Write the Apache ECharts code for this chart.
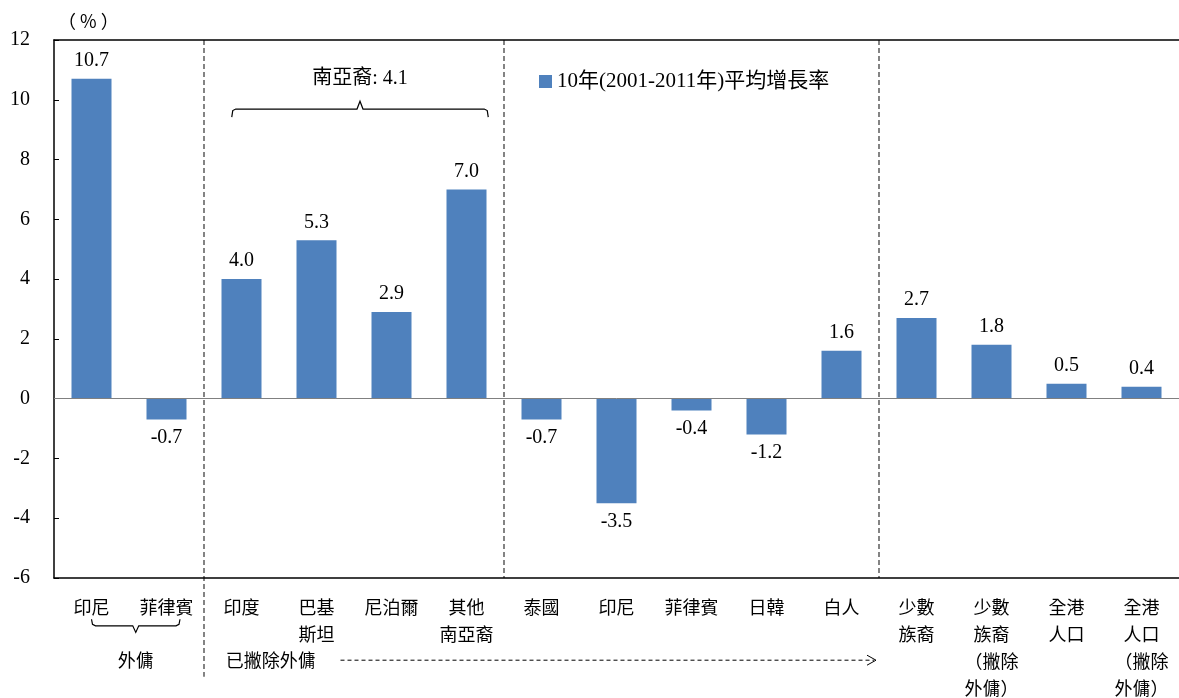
<!DOCTYPE html>
<html>
<head>
<meta charset="utf-8">
<script src="https://cdn.jsdelivr.net/npm/echarts@6/dist/echarts.min.js"></script>
<style>html,body{margin:0;padding:0;background:#fff}#c{width:1179px;height:698px}</style>
</head>
<body>
<div id="c"></div>
<script>
var categories = ['印尼', '菲律賓', '印度', '巴基\n斯坦', '尼泊爾', '其他\n南亞裔', '泰國', '印尼', '菲律賓', '日韓', '白人', '少數\n族裔', '少數\n族裔\n（撇除\n外傭）', '全港\n人口', '全港\n人口\n（撇除\n外傭）'];
var growth = [10.7, -0.7, 4.0, 5.3, 2.9, 7.0, -0.7, -3.5, -0.4, -1.2, 1.6, 2.7, 1.8, 0.5, 0.4];
var yTicks = [-6, -4, -2, 0, 2, 4, 6, 8, 10, 12];
var seriesName = '10年(2001-2011年)平均增長率';
var dividers = [2, 6, 11];

var SERIF = '"Liberation Serif", "Noto Sans CJK TC", serif';
var CJK = '"Noto Sans CJK TC", "Liberation Serif", sans-serif';

var chart = echarts.init(document.getElementById('c'), null, {renderer: 'canvas'});
var barData = growth.map(function (v) {
  return {value: v, label: {position: v < 0 ? 'bottom' : 'top'}};
});

chart.setOption({
  animation: false,
  grid: {left: 54, right: 0, top: 40, bottom: 120, containLabel: false, outerBoundsMode: 'none'},
  legend: {
    left: 534, top: 66, itemWidth: 13, itemHeight: 13, icon: 'rect', itemGap: 5,
    textStyle: {fontFamily: SERIF, fontSize: 21, color: '#000'},
    data: [seriesName]
  },
  xAxis: [{
    type: 'category', data: categories, position: 'bottom',
    axisLine: {onZero: false, lineStyle: {color: '#000', width: 1.5}},
    axisTick: {show: false},
    axisLabel: {interval: 0, margin: 16, fontFamily: CJK, fontSize: 18, color: '#000', lineHeight: 27}
  }, {
    type: 'value', min: 0, max: 15, position: 'top', show: true,
    axisLine: {show: true, onZero: false, lineStyle: {color: '#000', width: 1.5}},
    axisTick: {show: false}, axisLabel: {show: false}, splitLine: {show: false}
  }],
  yAxis: {
    type: 'value', min: yTicks[0], max: yTicks[yTicks.length - 1], interval: 2,
    axisLine: {show: true, lineStyle: {color: '#000', width: 1.5}},
    axisTick: {show: true, inside: true, length: 5, lineStyle: {color: '#000'}},
    axisLabel: {margin: 24, fontFamily: SERIF, fontSize: 20, color: '#000'},
    splitLine: {show: false}
  },
  series: [{
    name: seriesName, type: 'bar', data: barData, barWidth: 40,
    itemStyle: {color: '#4F81BD'},
    label: {show: true, distance: 8, fontFamily: SERIF, fontSize: 20, color: '#000',
      formatter: function (p) { return p.value.toFixed(1); }},
    markLine: {
      silent: true, symbol: ['none', 'none'], label: {show: false},
      lineStyle: {color: '#808080', type: 'solid', width: 1},
      data: [{yAxis: 0}]
    }
  }]
});

function X(v) { return chart.convertToPixel({xAxisIndex: 1}, v); }
function Y(v) { return chart.convertToPixel({yAxisIndex: 0}, v); }

var g = [];
var lineStyle = {stroke: '#333', lineWidth: 1.2, lineDash: [5, 3]};
dividers.forEach(function (d, i) {
  g.push({type: 'line', silent: true,
    shape: {x1: X(d), y1: Y(12), x2: X(d), y2: i === 0 ? Y(-9.3) : Y(-6)},
    style: lineStyle});
});

// brace under 外傭
var bL = X(0.5), bR = X(1.68), bM = (bL + bR) / 2;
g.push({type: 'polyline', silent: true, shape: {points: [
  [bL, Y(-7.38)], [bL + 1, Y(-7.55)], [bL + 4, Y(-7.6)], [bM - 3, Y(-7.6)], [bM, Y(-7.82)],
  [bM + 3, Y(-7.6)], [bR - 4, Y(-7.6)], [bR - 1, Y(-7.55)], [bR, Y(-7.38)]]},
  style: {stroke: '#000', lineWidth: 1.2, fill: null}});
g.push({type: 'text', silent: true, x: bM, y: Y(-8.75),
  style: {text: '外傭', fontFamily: CJK, fontSize: 18, fill: '#000', align: 'center', verticalAlign: 'middle'}});

// 已撇除外傭 with dashed arrow
g.push({type: 'text', silent: true, x: X(2.29), y: Y(-8.75),
  style: {text: '已撇除外傭', fontFamily: CJK, fontSize: 18, fill: '#000', align: 'left', verticalAlign: 'middle'}});
var aL = X(3.82), aR = X(10.96), aY = Y(-8.75);
g.push({type: 'line', silent: true, shape: {x1: aL, y1: aY, x2: aR - 2, y2: aY},
  style: {stroke: '#000', lineWidth: 1, lineDash: [4, 3]}});
g.push({type: 'polyline', silent: true, shape: {points: [[aR - 9, aY - 5], [aR, aY], [aR - 9, aY + 5]]},
  style: {stroke: '#000', lineWidth: 1, fill: null}});

// brace above 南亞裔
var sL = X(2.37), sR = X(5.79), sM = (sL + sR) / 2;
g.push({type: 'polyline', silent: true, shape: {points: [
  [sL, Y(9.42)], [sL + 1, Y(9.64)], [sL + 4, Y(9.69)], [sM - 3, Y(9.69)], [sM, Y(9.95)],
  [sM + 3, Y(9.69)], [sR - 4, Y(9.69)], [sR - 1, Y(9.64)], [sR, Y(9.42)]]},
  style: {stroke: '#000', lineWidth: 1.2, fill: null}});
g.push({type: 'text', silent: true, x: sM, y: Y(10.72),
  style: {text: '南亞裔: 4.1', fontFamily: SERIF, fontSize: 20, fill: '#000', align: 'center', verticalAlign: 'middle'}});

// unit
g.push({type: 'text', silent: true, x: X(0) + 4, y: Y(12) - 19,
  style: {text: '（ % ）', fontFamily: CJK, fontSize: 18, fill: '#000', align: 'left', verticalAlign: 'middle'}});

chart.setOption({graphic: g});
</script>
</body>
</html>
